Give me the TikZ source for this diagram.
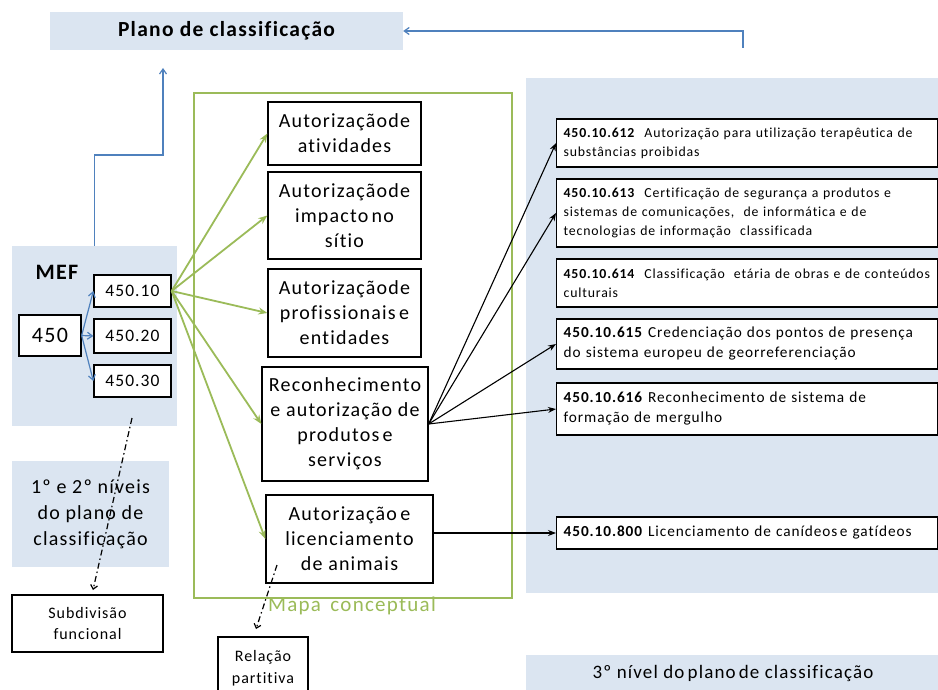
\documentclass[tikz,border=0pt]{standalone}
\usepackage{fontspec}
\setmainfont{Carlito}[LetterSpace=6, Ligatures=NoCommon]
\usetikzlibrary{arrows.meta,calc}
\definecolor{lblue}{HTML}{DBE5F1}
\definecolor{sblue}{HTML}{4F81BD}
\definecolor{ogreen}{HTML}{9BBB59}
\begin{document}
\begin{tikzpicture}[x=1pt,y=-1pt,
  bg/.style={fill=lblue, draw=none, inner sep=0pt, align=center},
  bx/.style={draw=black, line width=1.3pt, fill=white, align=center, inner sep=0pt},
  mid/.style={bx, font=\fontsize{20}{25}\selectfont},
  small/.style={bx, font=\fontsize{13}{18}\selectfont},
  rbx/.style={bx, anchor=west, minimum width=381pt, text width=367pt, align=left, font=\fontsize{13.8}{19}\selectfont},
  rbxb/.style={rbx, font=\fontsize{15.3}{20}\selectfont},
  garrow/.style={draw=ogreen, line width=1.8pt, -{Stealth[length=9pt,width=7pt]}},
  karrow/.style={draw=black, line width=1.1pt, -{Stealth[length=8pt,width=6pt]}},
  barrow/.style={draw=sblue, line width=1.2pt, -{Straight Barb[length=5pt,width=7pt]}},
  dasharrow/.style={draw=black, line width=1.2pt, dash pattern=on 6pt off 3pt on 1.5pt off 3pt, -{Straight Barb[length=4pt,width=7pt]}}
]
\useasboundingbox (0,0) rectangle (938,690);
\fill[white] (0,0) rectangle (938,690);

% backgrounds
\node[bg, minimum width=353pt, minimum height=38pt, font=\fontsize{21.5}{24}\selectfont\bfseries] (plano) at (226.5,31) {Plano de classificação};
\node[bg, minimum width=165pt, minimum height=180pt] (mef) at (94.5,336) {};
\node[font=\fontsize{22}{24}\selectfont\bfseries, inner sep=0pt] (meft) at (57,272) {MEF};
\node[bg, minimum width=157pt, minimum height=106pt, font=\fontsize{20}{26}\selectfont] (niv) at (90.5,514) {1º e 2º níveis\\do plano de\\classificação};
\node[bg, minimum width=414pt, minimum height=515pt] (rbg) at (733,335.5) {};
\node[bg, minimum width=414pt, minimum height=37pt, font=\fontsize{19}{22}\selectfont] (niv3) at (733,673.5) {3º nível do\,plano\,de classificação};

% green frame
\draw[ogreen, line width=1.8pt] (194,93) rectangle (512,598);
\node[text=ogreen, font=\fontsize{21}{24}\selectfont, inner sep=0pt] (mapa) at (352,606) {Mapa\, conceptual};

% MEF boxes
\node[bx, minimum width=62pt, minimum height=41pt, font=\fontsize{22}{24}\selectfont] (n450) at (50,335.5) {450};
\node[bx, minimum width=77pt, minimum height=32pt, font=\fontsize{17.5}{20}\selectfont] (b10) at (132.5,291) {450.10};
\node[bx, minimum width=77pt, minimum height=34pt, font=\fontsize{17.5}{20}\selectfont] (b20) at (132.5,336) {450.20};
\node[bx, minimum width=77pt, minimum height=32pt, font=\fontsize{17.5}{20}\selectfont] (b30) at (132.5,381) {450.30};

\node[small, minimum width=151pt, minimum height=57pt, font=\fontsize{16}{21}\selectfont] (subdiv) at (87.5,623.5) {Subdivisão\\funcional};
\node[small, minimum width=90pt, minimum height=63pt, font=\fontsize{16}{22}\selectfont] (rel) at (263,668.5) {Relação\\partitiva};

% middle boxes
\node[mid, minimum width=153pt, minimum height=63pt] (a1) at (344.5,133.5) {Autorizaçãode\\atividades};
\node[mid, minimum width=153pt, minimum height=87pt] (a2) at (344.5,215.5) {Autorizaçãode\\impacto\,no\\sítio};
\node[mid, minimum width=153pt, minimum height=88pt] (a3) at (344.5,313) {Autorizaçãode\\profissionais\,e\\entidades};
\node[mid, minimum width=166pt, minimum height=114pt] (a4) at (345,424) {Reconhecimento\\e autorização de\\produtos\,e\\serviços};
\node[mid, minimum width=167pt, minimum height=88pt] (a5) at (349.5,539) {Autorização\,e\\licenciamento\\de animais};

% right boxes
\node[rbx, minimum height=48pt] (r1) at (556,143) {\textbf{450.10.612}\ \ Autorização para utilização terapêutica de\\substâncias proibidas};
\node[rbx, minimum height=68pt] (r2) at (556,213) {\textbf{450.10.613}\ \ Certificação de segurança a produtos e\\sistemas de comunicações,\ \ de informática e de\\tecnologias de informação\ \ classificada};
\node[rbx, minimum height=48pt] (r3) at (556,283) {\textbf{450.10.614}\ \ Classificação\ \ etária de obras e de conteúdos\\culturais};
\node[rbxb, minimum height=50pt] (r4) at (556,344) {\textbf{450.10.615} Credenciação dos pontos de presença\\do sistema europeu de georreferenciação};
\node[rbxb, minimum height=52pt] (r5) at (556,409) {\textbf{450.10.616} Reconhecimento de sistema de\\formação de mergulho};
\node[rbxb, minimum height=32pt] (r6) at (556,533) {\textbf{450.10.800} Licenciamento de canídeos\,e gatídeos};

% blue connectors
\coordinate (pend) at (163,68);
\draw[barrow] (mef.north) -- (mef.north |- 0,155) -| (pend);
\coordinate (rstart) at (743,48);
\draw[barrow] (rstart) |- (plano.east);
\draw[barrow] (n450.east) -- (b10.west);
\draw[barrow] (n450.east) -- (b20.west);
\draw[barrow] (n450.east) -- (b30.west);

% green connectors
\foreach \t in {a1,a2,a3,a4,a5} \draw[garrow] (b10.east) -- (\t.west);

% black connectors
\foreach \t in {r1,r2,r4,r5} \draw[karrow] (a4.east) -- (\t.west);
\draw[karrow] (a5.east |- r6.west) -- (r6.west);

% dash-dot connectors
\coordinate (d1s) at (132,418);
\coordinate (d1e) at (93,590);
\draw[dasharrow] (d1s) -- (d1e);
\coordinate (d2s) at (277,565);
\coordinate (d2e) at (256,629);
\draw[dasharrow] (d2s) -- (d2e);
\end{tikzpicture}
\end{document}
